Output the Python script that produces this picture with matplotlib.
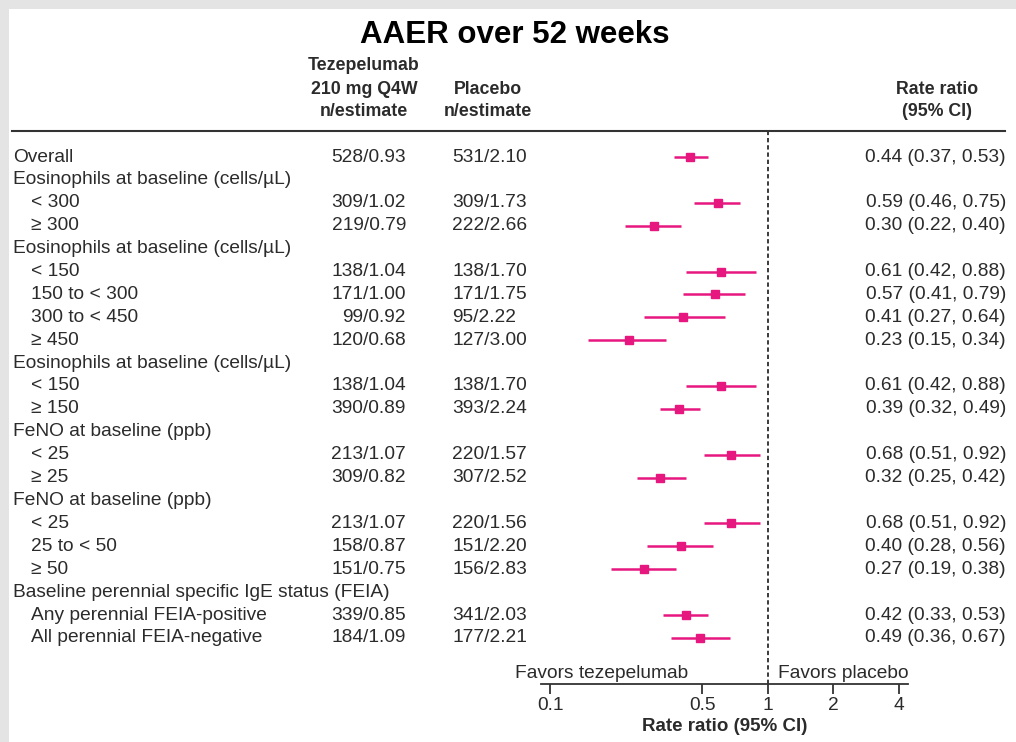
import matplotlib
matplotlib.use("Agg")
import matplotlib.pyplot as plt
from matplotlib.patches import Rectangle
from matplotlib.lines import Line2D
from matplotlib.transforms import blended_transform_factory

plt.rcParams['font.family'] = ['Liberation Sans', 'DejaVu Sans']

# subgroup rows: label, indented?, n/estimate for both arms, rate ratio with CI
labels = ["Overall", "Eosinophils at baseline (cells/µL)", "< 300", "≥ 300",
          "Eosinophils at baseline (cells/µL)", "< 150", "150 to < 300", "300 to < 450", "≥ 450",
          "Eosinophils at baseline (cells/µL)", "< 150", "≥ 150",
          "FeNO at baseline (ppb)", "< 25", "≥ 25",
          "FeNO at baseline (ppb)", "< 25", "25 to < 50", "≥ 50",
          "Baseline perennial specific IgE status (FEIA)",
          "Any perennial FEIA-positive", "All perennial FEIA-negative"]
indent = [0, 0, 1, 1, 0, 1, 1, 1, 1, 0, 1, 1, 0, 1, 1, 0, 1, 1, 1, 0, 1, 1]
teze = ["528/0.93", "", "309/1.02", "219/0.79", "", "138/1.04", "171/1.00", "99/0.92", "120/0.68",
        "", "138/1.04", "390/0.89", "", "213/1.07", "309/0.82", "", "213/1.07", "158/0.87",
        "151/0.75", "", "339/0.85", "184/1.09"]
placebo = ["531/2.10", "", "309/1.73", "222/2.66", "", "138/1.70", "171/1.75", "95/2.22", "127/3.00",
           "", "138/1.70", "393/2.24", "", "220/1.57", "307/2.52", "", "220/1.56", "151/2.20",
           "156/2.83", "", "341/2.03", "177/2.21"]
rr = [0.44, None, 0.59, 0.30, None, 0.61, 0.57, 0.41, 0.23, None, 0.61, 0.39, None, 0.68, 0.32,
      None, 0.68, 0.40, 0.27, None, 0.42, 0.49]
lo = [0.37, None, 0.46, 0.22, None, 0.42, 0.41, 0.27, 0.15, None, 0.42, 0.32, None, 0.51, 0.25,
      None, 0.51, 0.28, 0.19, None, 0.33, 0.36]
hi = [0.53, None, 0.75, 0.40, None, 0.88, 0.79, 0.64, 0.34, None, 0.88, 0.49, None, 0.92, 0.42,
      None, 0.92, 0.56, 0.38, None, 0.53, 0.67]
xticks = [0.1, 0.5, 1, 2, 4]
xticklabels = ["0.1", "0.5", "1", "2", "4"]

W, H = 1016, 742
pink = "#E6177F"
txt = "#2b2b2b"
fs = 13.8


def fx(px):
    return px / W


def fy(py):
    return 1 - py / H


fig = plt.figure(figsize=(W / 100, H / 100), dpi=100)
fig.patch.set_facecolor("#e4e4e4")
fig.patches.append(Rectangle((fx(9), 0), 1, fy(9), transform=fig.transFigure,
                             facecolor="white", edgecolor="none", zorder=-10))

# forest axes: x from 541 to 908 px, y from the header rule down to the axis line
ax = fig.add_axes([fx(541), fy(684), fx(908) - fx(541), fy(131) - fy(684)])
ax.set_facecolor("none")
ax.set_xscale("log")
ax.set_xlim(0.0908, 4.42)
row_h = 22.9
ax.set_ylim((684 - 157) / row_h, -(157 - 131) / row_h)

for i, v in enumerate(rr):
    if v is None:
        continue
    ax.plot([lo[i], hi[i]], [i, i], color=pink, lw=1.8, solid_capstyle="butt", zorder=3)
    ax.plot(v, i, marker="s", ms=6, color=pink, zorder=4)

ax.axvline(1, color=txt, lw=1.3, ls=(0, (2.4, 1.6)), zorder=1)

for s in ["top", "right", "left"]:
    ax.spines[s].set_visible(False)
ax.spines["bottom"].set_linewidth(1.3)
ax.spines["bottom"].set_color("#333333")
ax.set_yticks([])
ax.set_xticks(xticks)
ax.set_xticklabels(xticklabels)
ax.minorticks_off()
ax.tick_params(axis="x", direction="out", length=7, width=1.3, color="#333333",
               labelsize=fs, labelcolor=txt, pad=2)
ax.set_xlabel("Rate ratio (95% CI)", fontsize=13.5, fontweight="bold", color=txt, labelpad=3)

# direction labels, placed in figure pixels just above the axis line
tr = blended_transform_factory(fig.transFigure, ax.transData)
fav_y = (673 - 157) / row_h
ax.text(fx(515), fav_y, "Favors tezepelumab", transform=tr, ha="left", va="center",
        fontsize=fs, color=txt)
ax.text(fx(778), fav_y, "Favors placebo", transform=tr, ha="left", va="center",
        fontsize=fs, color=txt)

# text columns: x in figure pixels, y on the row scale
for i, lab in enumerate(labels):
    ax.text(fx(31 if indent[i] else 13), i, lab, transform=tr, ha="left", va="center",
            fontsize=fs, color=txt)
    if teze[i]:
        ax.text(fx(406), i, teze[i], transform=tr, ha="right", va="center", fontsize=fs, color=txt)
        ax.text(fx(452), i, placebo[i], transform=tr, ha="left", va="center", fontsize=fs, color=txt)
        ax.text(fx(1006), i, f"{rr[i]:.2f} ({lo[i]:.2f}, {hi[i]:.2f})", transform=tr,
                ha="right", va="center", fontsize=fs, color=txt)

# title and column headers
fig.text(fx(515), fy(35), "AAER over 52 weeks", ha="center", va="center",
         fontsize=22.5, fontweight="bold", color="black")
hdr = dict(ha="center", va="center", fontsize=12.8, fontweight="bold", color=txt)
for py, s in zip([66, 90, 112], ["Tezepelumab", "210 mg Q4W", "n/estimate"]):
    fig.text(fx(364), fy(py), s, **hdr)
for py, s in zip([90, 112], ["Placebo", "n/estimate"]):
    fig.text(fx(488), fy(py), s, **hdr)
for py, s in zip([90, 112], ["Rate ratio", "(95% CI)"]):
    fig.text(fx(937), fy(py), s, **hdr)

fig.lines.append(Line2D([fx(12), fx(1005)], [fy(131), fy(131)], transform=fig.transFigure,
                        color="#333333", lw=1.5))

fig.savefig("out.png", dpi=100)
